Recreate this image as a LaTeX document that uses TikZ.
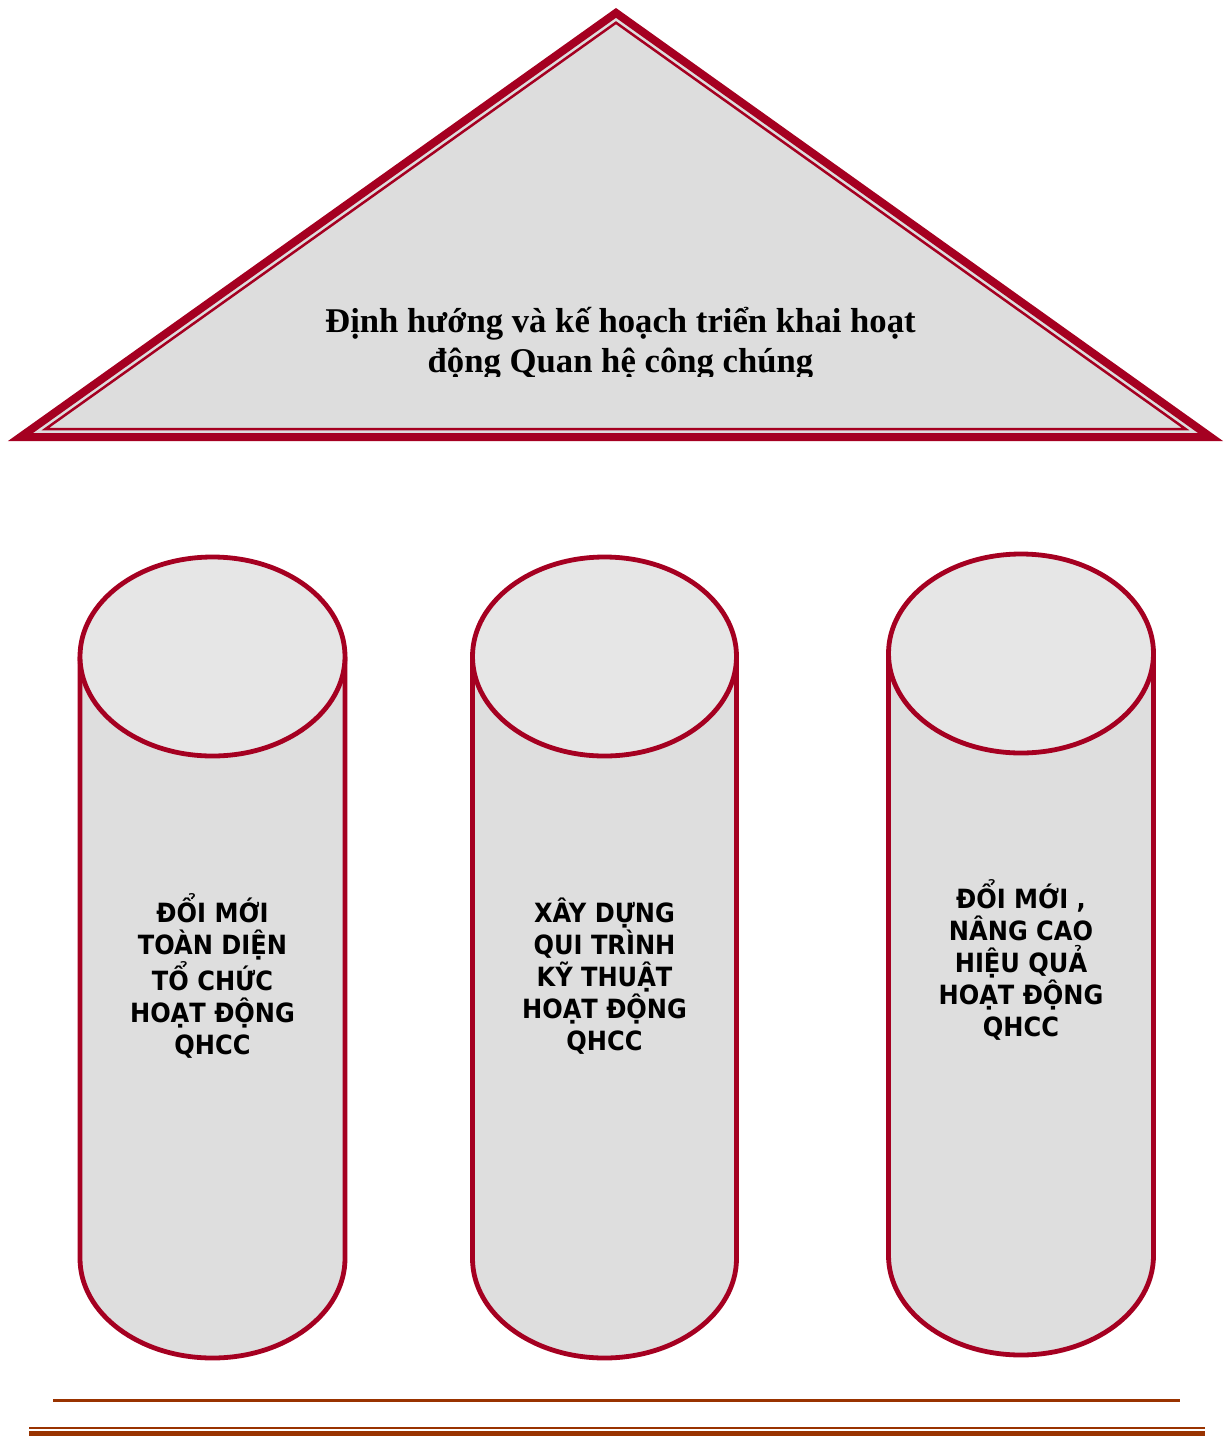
\documentclass[tikz,border=0pt]{standalone}
\usepackage{fontspec}
\setmainfont{Liberation Serif}
\newfontfamily\cylfont[FakeStretch=0.91]{DejaVu Sans}
\definecolor{roofred}{HTML}{A50021}
\definecolor{roofgray}{HTML}{DDDDDD}
\definecolor{bodygray}{HTML}{DEDEDE}
\definecolor{topgray}{HTML}{E6E6E6}
\definecolor{rulebrown}{HTML}{993300}
\begin{document}
\begin{tikzpicture}[x=1pt,y=-1pt,
  cylline/.style={draw=roofred,line width=4.8pt},
  cyltext/.style={align=center,font=\cylfont\bfseries\fontsize{26.5}{32}\selectfont,inner sep=0pt},
  rooftext/.style={align=center,font=\bfseries\fontsize{34.7}{40}\selectfont,inner sep=0pt},
  brule/.style={draw=rulebrown}]
\useasboundingbox (0,0) rectangle (1224,1436);
\fill[white] (0,0) rectangle (1224,1436);
% roof
\fill[roofgray] (616,12.9) -- (20.5,437) -- (1210.5,437) -- cycle;
\draw[roofred,line width=8pt,line join=miter] (616,12.9) -- (20.5,437) -- (1210.5,437) -- cycle;
\draw[roofred,line width=2.5pt,line join=miter] (616,22.7) -- (45.5,429) -- (1185.5,429) -- cycle;
\begin{scope}
\clip (100,280) rectangle (1120,376);
\node[rooftext] (roof) at (620.5,344) {Định hướng và kế hoạch triển khai hoạt\\động Quan hệ công chúng};
\end{scope}
% cylinders
\foreach \cx/\rx/\ty/\by [count=\i] in {212.5/132.5/557/1358, 604.5/132/557/1358, 1021/132.5/554/1355}{
  \pgfmathsetmacro{\tc}{\ty+99.5}
  \pgfmathsetmacro{\bc}{\by-99.5}
  \fill[bodygray] (\cx-\rx,\tc) -- (\cx-\rx,\bc) arc[start angle=180,end angle=360,x radius=\rx,y radius=-99.5] -- (\cx+\rx,\tc) -- cycle;
  \draw[cylline] (\cx-\rx,\tc) -- (\cx-\rx,\bc) arc[start angle=180,end angle=360,x radius=\rx,y radius=-99.5] -- (\cx+\rx,\tc);
  \draw[cylline,fill=topgray] (\cx,\tc) ellipse[x radius=\rx,y radius=99.5];
}
\node[cyltext] (c1) at (212.5,976) {ĐỔI MỚI\\TOÀN DIỆN\\TỔ CHỨC\\HOẠT ĐỘNG\\QHCC};
\node[cyltext] (c2) at (604.5,976) {XÂY DỰNG\\QUI TRÌNH\\KỸ THUẬT\\HOẠT ĐỘNG\\QHCC};
\node[cyltext] (c3) at (1021,960) {ĐỔI MỚI ,\\NÂNG CAO\\HIỆU QUẢ\\HOẠT ĐỘNG\\QHCC};
% bottom rules
\coordinate (r1a) at (53,1400.7);
\coordinate (r1b) at (1180,1400.7);
\coordinate (r2a) at (29,1427.9);
\coordinate (r2b) at (1205,1427.9);
\coordinate (r3a) at (29,1433.5);
\coordinate (r3b) at (1205,1433.5);
\draw[brule,line width=2.7pt] (r1a) -- (r1b);
\draw[brule,line width=2.3pt] (r2a) -- (r2b);
\draw[brule,line width=5pt] (r3a) -- (r3b);
\end{tikzpicture}
\end{document}
